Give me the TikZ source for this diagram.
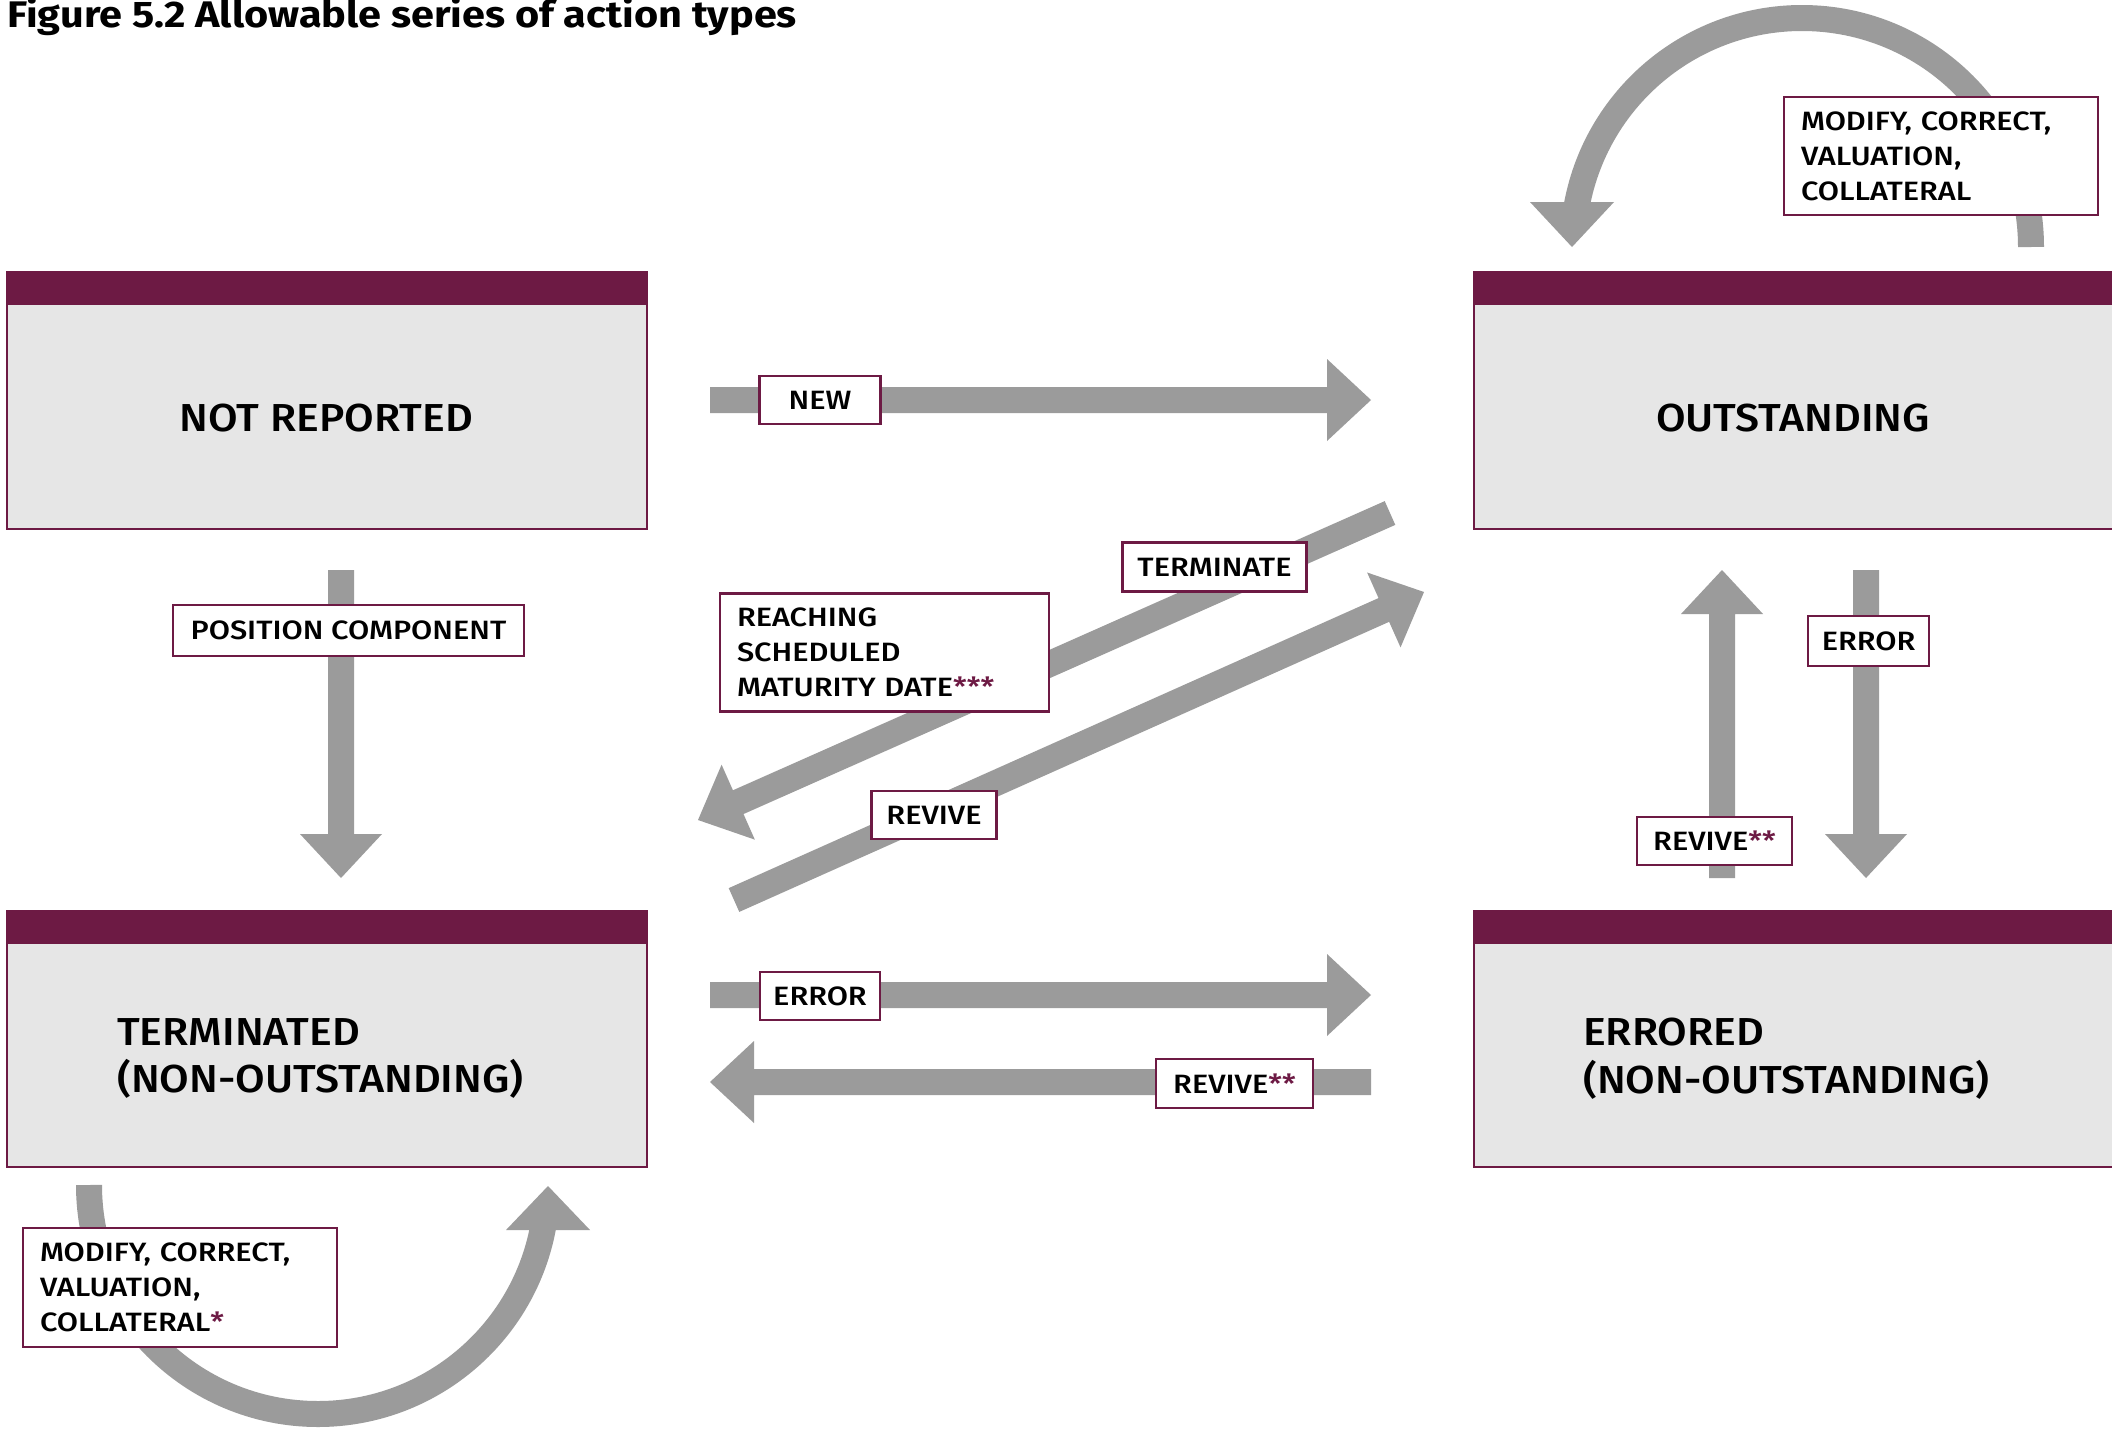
\documentclass[tikz,border=0pt]{standalone}
\usepackage{fontspec}
\setmainfont{Fira Sans}[UprightFont=* Medium, BoldFont=* Bold]
\newfontfamily\lblfont{Fira Sans}[UprightFont=* Medium, FakeStretch=1.16]
\newfontfamily\statefont{Fira Sans}[UprightFont=* Medium, FakeStretch=1.10]
\newfontfamily\titlefont{Fira Sans}[UprightFont=* Bold, FakeStretch=1.12]
\usetikzlibrary{calc}
\definecolor{maroon}{HTML}{6D1A44}
\definecolor{boxgray}{HTML}{E6E6E6}
\definecolor{arrgray}{HTML}{9B9B9B}
\newcommand\fatarrow[2]{%
  \coordinate (#1base) at ($(#2)!44pt!(#1)$);
  \fill[arrgray] ($(#1)!13pt!90:(#2)$) -- ($(#1base)!13pt!-90:(#1)$) -- ($(#1base)!41pt!-90:(#1)$)
    -- (#2) -- ($(#1base)!41pt!90:(#1)$) -- ($(#1base)!13pt!90:(#1)$) -- ($(#1)!13pt!-90:(#2)$) -- cycle;}
\begin{document}
\begin{tikzpicture}[x=1pt,y=1pt,
  statebody/.style={draw=maroon, fill=boxgray, line width=2.5pt, inner sep=0pt},
  statebar/.style={fill=maroon},
  statetext/.style={font=\statefont\fontsize{39}{47.5}\selectfont, inner sep=0pt, align=left},
  lbl/.style={draw=maroon, fill=white, line width=2.5pt, inner sep=0pt,
    font=\lblfont\fontsize{26.5}{35}\selectfont, minimum height=48pt},
  mlbl/.style={lbl, align=left, inner xsep=17pt}]
\useasboundingbox (0,0) rectangle (2112,-1430);
\fill[white] (0,0) rectangle (2112,-1430);

% title
\node[anchor=base west, inner sep=0pt, font=\titlefont\fontsize{37}{40}\selectfont] (title) at (7,-27) {Figure 5.2 Allowable series of action types};

% state boxes
\fill[statebar] (5.75,-270.75) rectangle (648.25,-305);
\node[statebody, minimum width=640pt, minimum height=225pt] (nrbox) at (327,-416.5) {};
\node[statetext] (nr) at (326.5,-418.5) {NOT REPORTED};

\fill[statebar] (1472.75,-270.75) rectangle (2120,-305);
\node[statebody, minimum width=650pt, minimum height=225pt] (osbox) at (1799,-416.5) {};
\node[statetext] (os) at (1793,-418.5) {OUTSTANDING};

\fill[statebar] (5.75,-909.75) rectangle (648.25,-944);
\node[statebody, minimum width=640pt, minimum height=224pt] (tmbox) at (327,-1055) {};
\node[statetext, anchor=west] (tm) at (117,-1058.5) {TERMINATED\\(NON-OUTSTANDING)};

\fill[statebar] (1472.75,-909.75) rectangle (2120,-944);
\node[statebody, minimum width=650pt, minimum height=224pt] (erbox) at (1799,-1055) {};
\node[statetext, anchor=west] (er) at (1583,-1058.5) {ERRORED\\(NON-OUTSTANDING)};

% straight arrows
\coordinate (newt) at (710,-400);   \coordinate (newh) at (1371,-400);
\coordinate (errt) at (710,-995);   \coordinate (errh) at (1371,-995);
\coordinate (revt) at (1371,-1082); \coordinate (revh) at (710,-1082);
\coordinate (post) at (341,-570);   \coordinate (posh) at (341,-878);
\coordinate (rvvt) at (1722,-878);  \coordinate (rvvh) at (1722,-570);
\coordinate (ervt) at (1866,-570);  \coordinate (ervh) at (1866,-878);
\coordinate (trmt) at (1390,-513);  \coordinate (trmh) at (698,-820);
\coordinate (rvdt) at (734,-900);   \coordinate (rvdh) at (1424,-592);
\fatarrow{newt}{newh}
\fatarrow{errt}{errh}
\fatarrow{revt}{revh}
\fatarrow{post}{posh}
\fatarrow{rvvt}{rvvh}
\fatarrow{ervt}{ervh}
\fatarrow{trmt}{trmh}
\fatarrow{rvdt}{rvdh}

% loop arrows
\coordinate (loopTt) at (2031,-247);
\coordinate (loopTh) at (1572,-247);
\draw[arrgray, line width=26pt] (loopTt) arc[start angle=0, end angle=172, radius=229pt];
\fill[arrgray] ($(loopTh)+(-42,45)$) -- ($(loopTh)+(42,45)$) -- (loopTh) -- cycle;

\coordinate (loopBt) at (89,-1185);
\coordinate (loopBh) at (548,-1186);
\draw[arrgray, line width=26pt] (loopBt) arc[start angle=180, end angle=352, radius=229pt];
\fill[arrgray] ($(loopBh)+(-42,-44)$) -- ($(loopBh)+(42,-44)$) -- (loopBh) -- cycle;

% labels
\node[lbl, minimum width=121pt] (lNew) at (820,-400) {NEW};
\node[lbl, minimum width=351pt, minimum height=51pt] (lPos) at (348.5,-630.5) {POSITION COMPONENT};
\node[lbl, minimum width=184pt, minimum height=49pt] (lTerm) at (1214.5,-567) {TERMINATE};
\node[mlbl, text width=295pt, minimum height=118pt] (lReach) at (884.5,-652.5) {REACHING\\SCHEDULED\\MATURITY DATE\textcolor{maroon}{***}};
\node[lbl, minimum width=125pt] (lRevD) at (934,-815) {REVIVE};
\node[lbl, minimum width=120pt] (lErrH) at (820,-996) {ERROR};
\node[lbl, minimum width=157pt, minimum height=49pt] (lRevH) at (1234.5,-1083.5) {REVIVE\textcolor{maroon}{**}};
\node[lbl, minimum width=155pt] (lRevV) at (1714.5,-841) {REVIVE\textcolor{maroon}{**}};
\node[lbl, minimum width=121pt, minimum height=50pt] (lErrV) at (1868.5,-641) {ERROR};
\node[mlbl, text width=280pt, minimum height=118pt] (lModT) at (1941,-156) {MODIFY, CORRECT,\\VALUATION,\\COLLATERAL};
\node[mlbl, text width=280pt, minimum height=119pt] (lModB) at (180,-1287.5) {MODIFY, CORRECT,\\VALUATION,\\COLLATERAL\textcolor{maroon}{*}};
\end{tikzpicture}
\end{document}
